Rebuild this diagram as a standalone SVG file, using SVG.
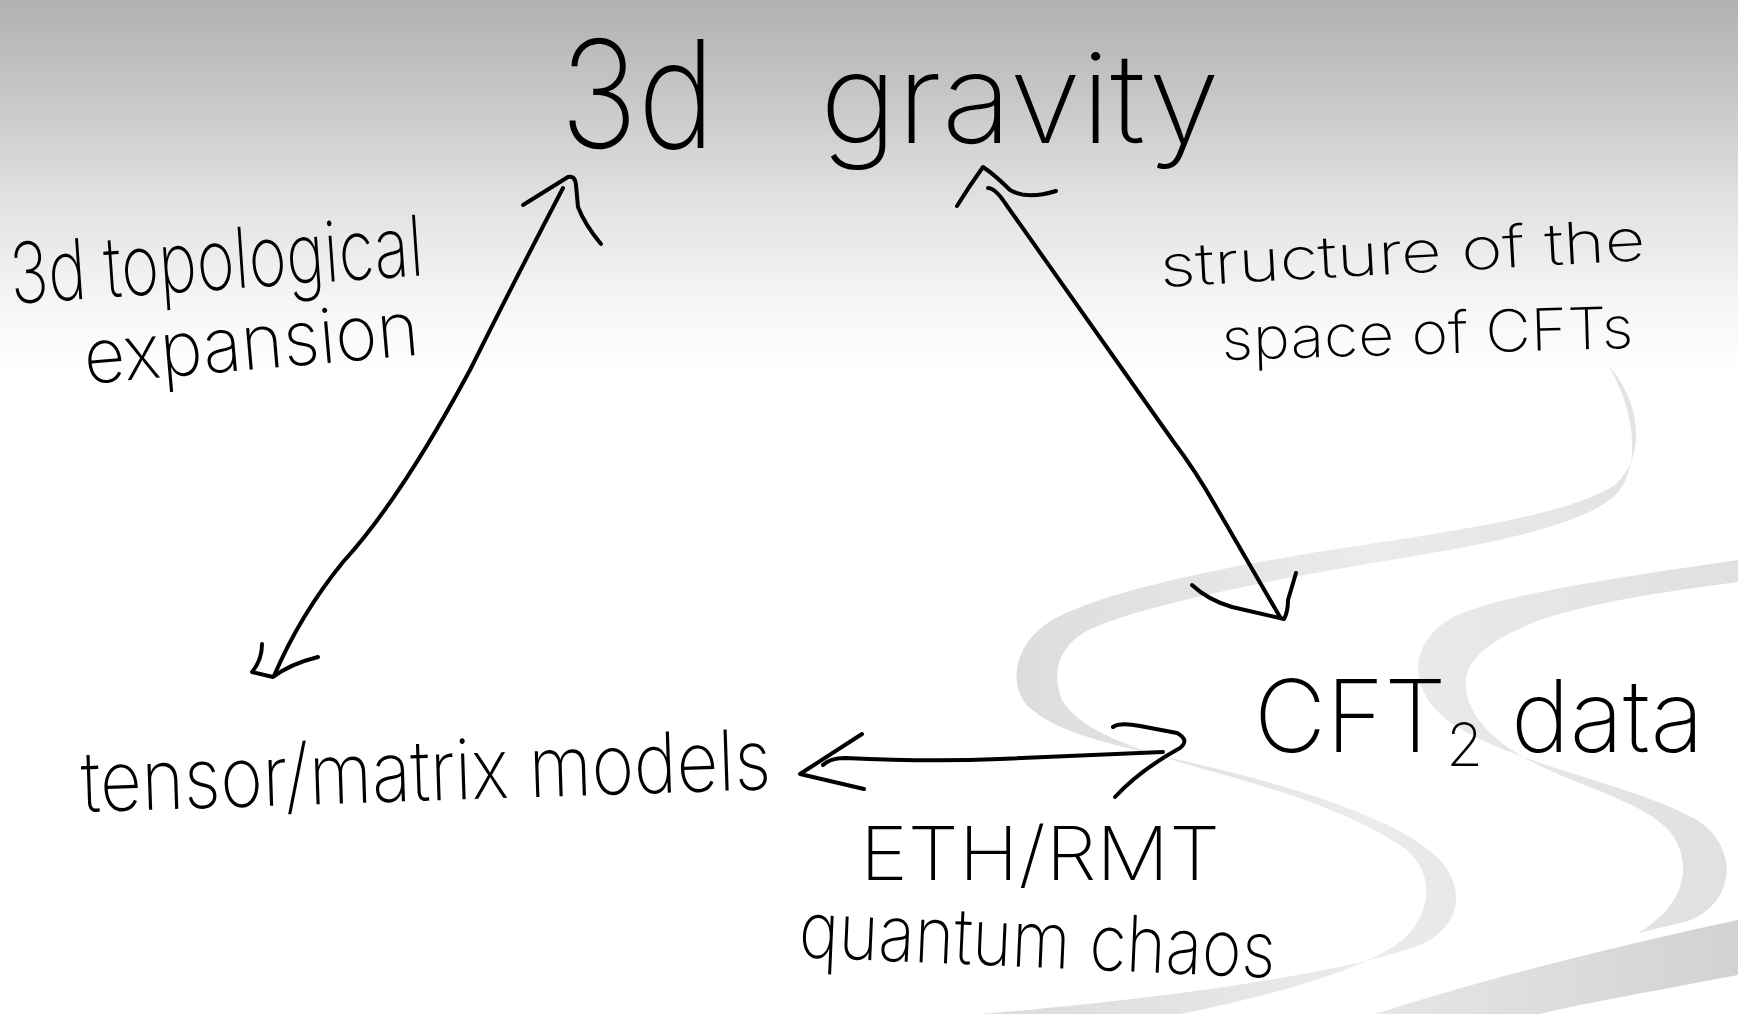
<svg xmlns="http://www.w3.org/2000/svg" width="1738" height="1014" viewBox="0 0 1738 1014">
<defs>
  <linearGradient id="bg" x1="0" y1="0" x2="0" y2="1014" gradientUnits="userSpaceOnUse">
    <stop offset="0" stop-color="#b1b1b1"/>
    <stop offset="0.1" stop-color="#c8c8c8"/>
    <stop offset="0.2" stop-color="#e2e2e2"/>
    <stop offset="0.3" stop-color="#f6f6f6"/>
    <stop offset="0.37" stop-color="#ffffff"/>
  </linearGradient>
  <linearGradient id="rib" x1="1000" y1="0" x2="1738" y2="0" gradientUnits="userSpaceOnUse">
    <stop offset="0" stop-color="#dcdcdc"/>
    <stop offset="0.5" stop-color="#ebebeb"/>
    <stop offset="1" stop-color="#e0e0e0"/>
  </linearGradient>
  <linearGradient id="rib3" x1="1380" y1="0" x2="1738" y2="0" gradientUnits="userSpaceOnUse">
    <stop offset="0" stop-color="#e6e6e6"/>
    <stop offset="1" stop-color="#d2d2d2"/>
  </linearGradient>
  <style>
    .hw{font-family:Inter,"Liberation Sans",sans-serif;font-weight:200;fill:#000}
    .ln{fill:none;stroke:#000;stroke-width:4;stroke-linecap:round;stroke-linejoin:round}
  </style>
</defs>

<rect x="0" y="0" width="1738" height="1014" fill="url(#bg)"/>

<g id="background-ribbons">
  <path fill="url(#rib)" d="M 1608,365 C 1640,400 1648,455 1615,485 C 1560,520 1420,535 1300,555 C 1180,575 1080,600 1045,625 C 1010,650 1008,695 1035,712 C 1070,740 1150,752 1230,772 C 1330,797 1410,828 1440,860 C 1470,895 1455,930 1420,945 C 1340,975 1150,1000 980,1014 L 1180,1014 C 1300,990 1390,960 1412,930 C 1435,900 1430,865 1400,845 C 1350,812 1280,790 1200,768 C 1130,748 1080,730 1062,700 C 1050,670 1060,640 1100,625 C 1170,598 1300,575 1420,555 C 1540,535 1600,515 1620,490 C 1640,460 1635,410 1608,365 Z"/>
  <path fill="url(#rib)" d="M 1738,560 C 1600,580 1480,598 1445,622 C 1405,650 1412,695 1450,722 C 1510,765 1640,785 1700,822 C 1740,850 1735,905 1685,922 L 1638,933 C 1675,912 1690,880 1680,850 C 1670,815 1620,800 1560,775 C 1500,750 1470,720 1466,690 C 1462,660 1490,640 1540,620 C 1600,600 1680,590 1738,582 Z"/>
  <path fill="url(#rib3)" d="M 1738,920 L 1738,975 C 1660,990 1580,1004 1540,1014 L 1375,1014 C 1480,980 1620,945 1738,920 Z"/>
</g>

<g id="connectors">
  <path id="edge-gravity-tensor" class="ln" d="M 563,188 Q 520,270 470,370 Q 400,500 343,562 Q 300,615 274,676"/>
  <path class="ln" d="M 523,205 L 568,177 Q 575,175 576,185 L 578,207 Q 585,225 601,244"/>
  <path class="ln" d="M 262,644 Q 262,660 252,672 L 273,677 Q 290,664 318,657"/>

  <path id="edge-gravity-cft" class="ln" d="M 988,188 Q 995,188 1005,203 L 1173,441 Q 1195,470 1215,505 L 1280,617"/>
  <path class="ln" d="M 957,206 Q 970,185 983,167 Q 995,175 1010,190 Q 1027,200 1056,191"/>
  <path class="ln" d="M 1192,585 Q 1208,600 1232,607 L 1284,619 Q 1288,612 1288,600 L 1296,573"/>

  <path id="edge-tensor-cft" class="ln" d="M 823,765 Q 830,758 845,758 Q 930,762 1000,759 L 1163,752"/>
  <path class="ln" d="M 862,734 L 800,774 L 864,789"/>
  <path class="ln" d="M 1113,727 Q 1120,722 1140,726 L 1177,733 Q 1190,740 1180,748 Q 1140,770 1115,797"/>
</g>

<g id="node-3d-gravity">
  <text class="hw" x="560" y="148" font-size="150" textLength="155" lengthAdjust="spacingAndGlyphs">3d</text>
  <text class="hw" x="820" y="143" font-size="125" textLength="400" lengthAdjust="spacingAndGlyphs">gravity</text>
</g>

<g id="label-topological-expansion">
  <text class="hw" x="12" y="304" font-size="84" textLength="414" lengthAdjust="spacingAndGlyphs" transform="rotate(-4 12 304)">3d topological</text>
  <text class="hw" x="86" y="384" font-size="76" textLength="336" lengthAdjust="spacingAndGlyphs" transform="rotate(-5 86 384)">expansion</text>
</g>

<g id="label-structure">
  <text class="hw" x="1161" y="287" font-size="58" textLength="486" lengthAdjust="spacingAndGlyphs" transform="rotate(-3.2 1161 287)">structure of the</text>
  <text class="hw" x="1222" y="360" font-size="58" textLength="412" lengthAdjust="spacingAndGlyphs" transform="rotate(-1.7 1222 360)">space of CFTs</text>
</g>

<g id="node-tensor-matrix">
  <text class="hw" x="82" y="812" font-size="84" textLength="690" lengthAdjust="spacingAndGlyphs" transform="rotate(-1.9 82 812)">tensor/matrix models</text>
</g>

<g id="node-cft2-data">
  <text class="hw" x="1254" y="752" font-size="100" textLength="450" lengthAdjust="spacingAndGlyphs">CFT<tspan font-size="60" dy="14">2</tspan><tspan dy="-14"> data</tspan></text>
</g>

<g id="label-eth-rmt">
  <text class="hw" x="860" y="880" font-size="74" textLength="360" lengthAdjust="spacingAndGlyphs">ETH/RMT</text>
  <text class="hw" x="798" y="957" font-size="78" textLength="477" lengthAdjust="spacingAndGlyphs" transform="rotate(2.5 798 957)">quantum chaos</text>
</g>
</svg>
